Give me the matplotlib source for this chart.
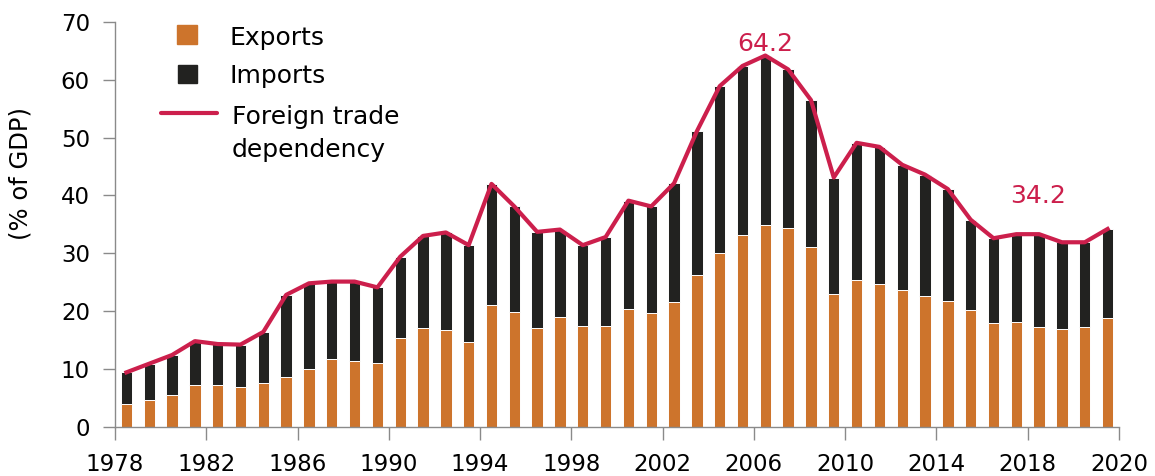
import numpy as np
import matplotlib.pyplot as plt
from matplotlib.patches import Rectangle
from matplotlib.lines import Line2D

years = list(range(1978, 2022))

# % of GDP
exports = [3.9, 4.7, 5.4, 7.2, 7.2, 6.8, 7.6, 8.6, 10.0, 11.7, 11.4, 11.1,
           15.3, 17.0, 16.7, 14.7, 21.1, 19.9, 17.0, 18.9, 17.4, 17.4,
           20.3, 19.6, 21.6, 26.2, 30.0, 33.2, 34.9, 34.3, 31.1, 23.0,
           25.4, 24.7, 23.6, 22.6, 21.8, 20.2, 18.0, 18.1, 17.3, 16.9,
           17.2, 18.8]
imports = [5.5, 6.2, 7.0, 7.6, 7.1, 7.4, 8.8, 14.2, 14.8, 13.4, 13.7, 13.0,
           14.1, 16.0, 16.9, 16.7, 20.9, 18.2, 16.7, 15.2, 14.0, 15.4,
           18.8, 18.5, 20.5, 24.9, 28.9, 29.2, 29.3, 27.5, 25.4, 20.1,
           23.7, 23.7, 21.7, 21.0, 19.3, 15.6, 14.6, 15.2, 16.0, 15.0,
           14.7, 15.4]

xtick_labels = ['1978', '1982', '1986', '1990', '1994', '1998', '2002',
                '2006', '2010', '2014', '2018', '2020']

orange = '#cd742c'
black = '#222220'
red = '#cc1f4c'

exports = np.array(exports)
imports = np.array(imports)
dependency = exports + imports
x = np.arange(len(years)) + 0.5

W, H = 1155, 476
fig = plt.figure(figsize=(W / 100, H / 100), dpi=100)
ax = fig.add_axes([115 / W, 1 - 426.7 / H, 1004 / W, 404.7 / H])

ax.bar(x, exports, width=0.5, color=orange, edgecolor='white', linewidth=0.7, zorder=2)
ax.bar(x, imports, width=0.5, bottom=exports, color=black, edgecolor='white',
       linewidth=0.7, zorder=2)
ax.plot(x, dependency, color=red, lw=3, solid_joinstyle='round', zorder=3)

# labels for peak and latest value
i_max = int(np.argmax(dependency))
ax.annotate('%.1f' % dependency[i_max], (x[i_max], dependency[i_max]),
            xytext=(0, 3.5), textcoords='offset points', ha='center', va='baseline',
            color=red, fontsize=18)
ax.annotate('%.1f' % dependency[-1], (x[-1], dependency[-1]),
            xytext=(-50, 19), textcoords='offset points', ha='center', va='baseline',
            color=red, fontsize=18)

ax.set_xlim(0, len(years))
ax.set_ylim(0, 70)
ax.set_xticks(np.arange(0, len(years) + 1, 4))
ax.set_xticklabels(xtick_labels)
ax.set_yticks(range(0, 71, 10))

for s in ['top', 'right']:
    ax.spines[s].set_visible(False)
for s in ['left', 'bottom']:
    ax.spines[s].set_color('#8a8a8a')
    ax.spines[s].set_linewidth(1)
ax.tick_params(axis='both', colors='#8a8a8a', length=9, width=1, labelsize=16.5,
               labelcolor='black')
ax.tick_params(axis='x', pad=10)
ax.tick_params(axis='y', pad=9)

fig.text(21 / W, 1 - 173 / H, '(% of GDP)', rotation=90, ha='center', va='center',
         fontsize=17.5)

# legend drawn by hand
fig.add_artist(Rectangle((177 / W, 1 - 44 / H), 20 / W, 19 / H, transform=fig.transFigure,
                         color=orange))
fig.add_artist(Rectangle((178 / W, 1 - 83 / H), 19 / W, 18 / H, transform=fig.transFigure,
                         color=black))
fig.add_artist(Line2D([161 / W, 217 / W], [1 - 113 / H, 1 - 113 / H],
                      transform=fig.transFigure, color=red, lw=3, solid_capstyle='round'))
fig.text(230 / W, 1 - 45 / H, 'Exports', fontsize=18, va='baseline')
fig.text(230 / W, 1 - 83 / H, 'Imports', fontsize=18, va='baseline')
fig.text(232 / W, 1 - 124 / H, 'Foreign trade', fontsize=18, va='baseline')
fig.text(232 / W, 1 - 157 / H, 'dependency', fontsize=18, va='baseline')

plt.savefig('out.png', dpi=100)
